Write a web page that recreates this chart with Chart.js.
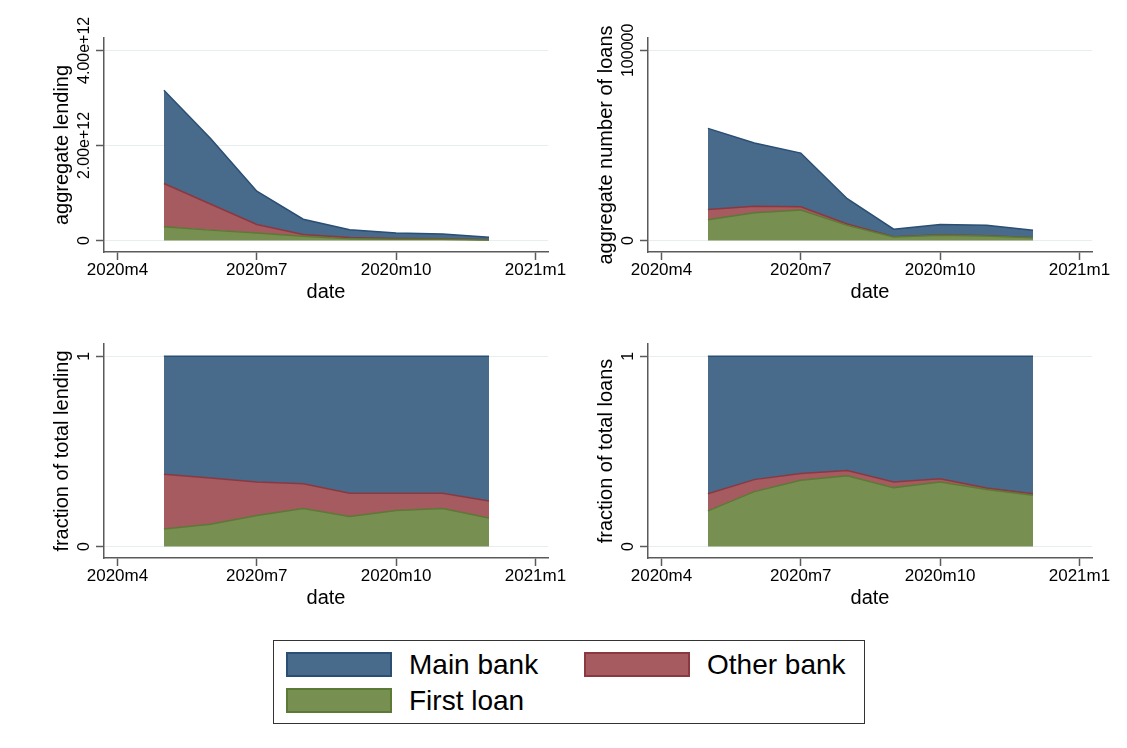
<!DOCTYPE html>
<html>
<head>
<meta charset="utf-8">
<script src="https://cdn.jsdelivr.net/npm/chart.js@4.4.0/dist/chart.umd.min.js"></script>
<style>
body{margin:0;background:#fff;width:1127px;height:748px;position:relative;overflow:hidden;font-family:"Liberation Sans",Arial,sans-serif;}
canvas{position:absolute;}
#legend{position:absolute;left:273px;top:640px;width:592px;height:84px;border:1.5px solid #333;box-sizing:border-box;}
.sw{position:absolute;width:106px;height:25px;border:2px solid;box-sizing:border-box;}
.lab{position:absolute;font-size:28px;line-height:28px;color:#000;white-space:nowrap;}
</style>
</head>
<body>
<canvas id="p1" width="600" height="320" style="left:0;top:0"></canvas>
<canvas id="p2" width="583" height="320" style="left:544px;top:0"></canvas>
<canvas id="p3" width="600" height="320" style="left:0;top:306px"></canvas>
<canvas id="p4" width="583" height="320" style="left:544px;top:306px"></canvas>

<div id="legend">
  <div class="sw" style="left:12px;top:11px;background:#486a8b;border-color:#2a4e74"></div>
  <div class="lab" style="left:135px;top:10px">Main bank</div>
  <div class="sw" style="left:310px;top:11px;background:#a55b5f;border-color:#8b3840"></div>
  <div class="lab" style="left:433px;top:10px">Other bank</div>
  <div class="sw" style="left:12px;top:47px;background:#778f50;border-color:#5a7a35"></div>
  <div class="lab" style="left:135px;top:46px">First loan</div>
</div>

<script>
// months counted from 2020m4 (m5 = 1 ... m12 = 8)
const months = [1, 2, 3, 4, 5, 6, 7, 8];
const xTickVals = [0, 3, 6, 9];
const xTickLabels = ['2020m4', '2020m7', '2020m10', '2021m1'];

// cumulative tops of each band
const lendMain  = [3.16e12, 2.15e12, 1.04e12, 0.45e12, 0.23e12, 0.16e12, 0.14e12, 0.07e12];
const lendOther = [1.20e12, 0.77e12, 0.34e12, 0.13e12, 0.065e12, 0.045e12, 0.04e12, 0.017e12];
const lendFirst = [0.29e12, 0.22e12, 0.16e12, 0.09e12, 0.036e12, 0.03e12, 0.028e12, 0.011e12];

const cntMain  = [59000, 51300, 46000, 22000, 6000, 8500, 8100, 5400];
const cntOther = [16400, 18100, 17800, 8700, 2050, 3000, 2500, 1500];
const cntFirst = [11000, 14600, 16100, 8000, 1850, 2850, 2400, 1430];

const fracMain = [1, 1, 1, 1, 1, 1, 1, 1];
const fracLendOther = [0.38, 0.36, 0.34, 0.33, 0.28, 0.28, 0.28, 0.24];
const fracLendFirst = [0.093, 0.118, 0.164, 0.20, 0.158, 0.19, 0.20, 0.15];
const fracCntOther = [0.278, 0.352, 0.384, 0.40, 0.34, 0.356, 0.308, 0.278];
const fracCntFirst = [0.188, 0.289, 0.349, 0.372, 0.31, 0.34, 0.30, 0.27];

const font = '"Liberation Sans", Arial, sans-serif';
const axisColor = '#5a5a5a';

const stataText = {
  id: 'stataText',
  afterDraw(chart, args, o) {
    const {ctx, chartArea: ca} = chart;
    const y = chart.scales.y;
    ctx.save();
    ctx.fillStyle = '#000';
    ctx.textAlign = 'center';
    ctx.textBaseline = 'alphabetic';
    ctx.font = '16px ' + font;
    o.yVals.forEach((v, i) => {
      ctx.save();
      ctx.translate(ca.left - 15, y.getPixelForValue(v));
      ctx.rotate(-Math.PI / 2);
      ctx.fillText(o.yLabels[i], 0, 0);
      ctx.restore();
    });
    ctx.font = '20px ' + font;
    ctx.save();
    ctx.translate(ca.left - 36, (ca.top + ca.bottom) / 2);
    ctx.rotate(-Math.PI / 2);
    ctx.fillText(o.yTitle, 0, 0);
    ctx.restore();
    ctx.fillText('date', (ca.left + ca.right) / 2, ca.bottom + 46);
    ctx.restore();
  }
};

function pts(arr) {
  return months.map((m, i) => ({x: m, y: arr[i]}));
}

function panel(id, padRight, yMin, yMax, yVals, yLabels, yTitle, first, other, main) {
  new Chart(document.getElementById(id), {
    type: 'line',
    data: {
      datasets: [
        {label: 'First loan', data: pts(first), fill: 'origin', backgroundColor: '#778f50', borderColor: '#5a7a35', borderWidth: 1.5, pointRadius: 0, tension: 0},
        {label: 'Other bank', data: pts(other), fill: '-1', backgroundColor: '#a55b5f', borderColor: '#8b3840', borderWidth: 1.5, pointRadius: 0, tension: 0},
        {label: 'Main bank', data: pts(main), fill: '-1', backgroundColor: '#486a8b', borderColor: '#2a4e74', borderWidth: 1.5, pointRadius: 0, tension: 0}
      ]
    },
    options: {
      responsive: false,
      animation: false,
      devicePixelRatio: 1,
      layout: {padding: {left: 0, right: padRight, top: 38, bottom: 0}},
      plugins: {
        legend: {display: false},
        tooltip: {enabled: false},
        stataText: {yVals, yLabels, yTitle}
      },
      scales: {
        x: {
          type: 'linear', min: -0.29, max: 9.27,
          afterBuildTicks: s => { s.ticks = xTickVals.map(v => ({value: v})); },
          afterFit: s => { s.height = 68; },
          ticks: {callback: (v, i) => xTickLabels[i], font: {size: 17, family: font}, color: '#000', padding: 0, maxRotation: 0, minRotation: 0, autoSkip: false},
          grid: {drawOnChartArea: false, drawTicks: true, tickLength: 8, tickColor: axisColor, tickWidth: 1.5},
          border: {display: true, color: axisColor, width: 1.5}
        },
        y: {
          type: 'linear', min: yMin, max: yMax,
          afterBuildTicks: s => { s.ticks = yVals.map(v => ({value: v})); },
          afterFit: s => { s.width = 104; },
          ticks: {display: false},
          grid: {color: '#e6eef0', lineWidth: 1, drawTicks: true, tickLength: 8, tickColor: axisColor, tickWidth: 1.5},
          border: {display: true, color: axisColor, width: 1.5}
        }
      }
    },
    plugins: [stataText]
  });
}

panel('p1', 52, -0.24e12, 4.26e12, [0, 2e12, 4e12], ['0', '2.00e+12', '4.00e+12'], 'aggregate lending', lendFirst, lendOther, lendMain);
panel('p2', 35, -6000, 106500, [0, 100000], ['0', '100000'], 'aggregate number of loans', cntFirst, cntOther, cntMain);
panel('p3', 52, -0.06, 1.065, [0, 1], ['0', '1'], 'fraction of total lending', fracLendFirst, fracLendOther, fracMain);
panel('p4', 35, -0.06, 1.065, [0, 1], ['0', '1'], 'fraction of total loans', fracCntFirst, fracCntOther, fracMain);
</script>
</body>
</html>
